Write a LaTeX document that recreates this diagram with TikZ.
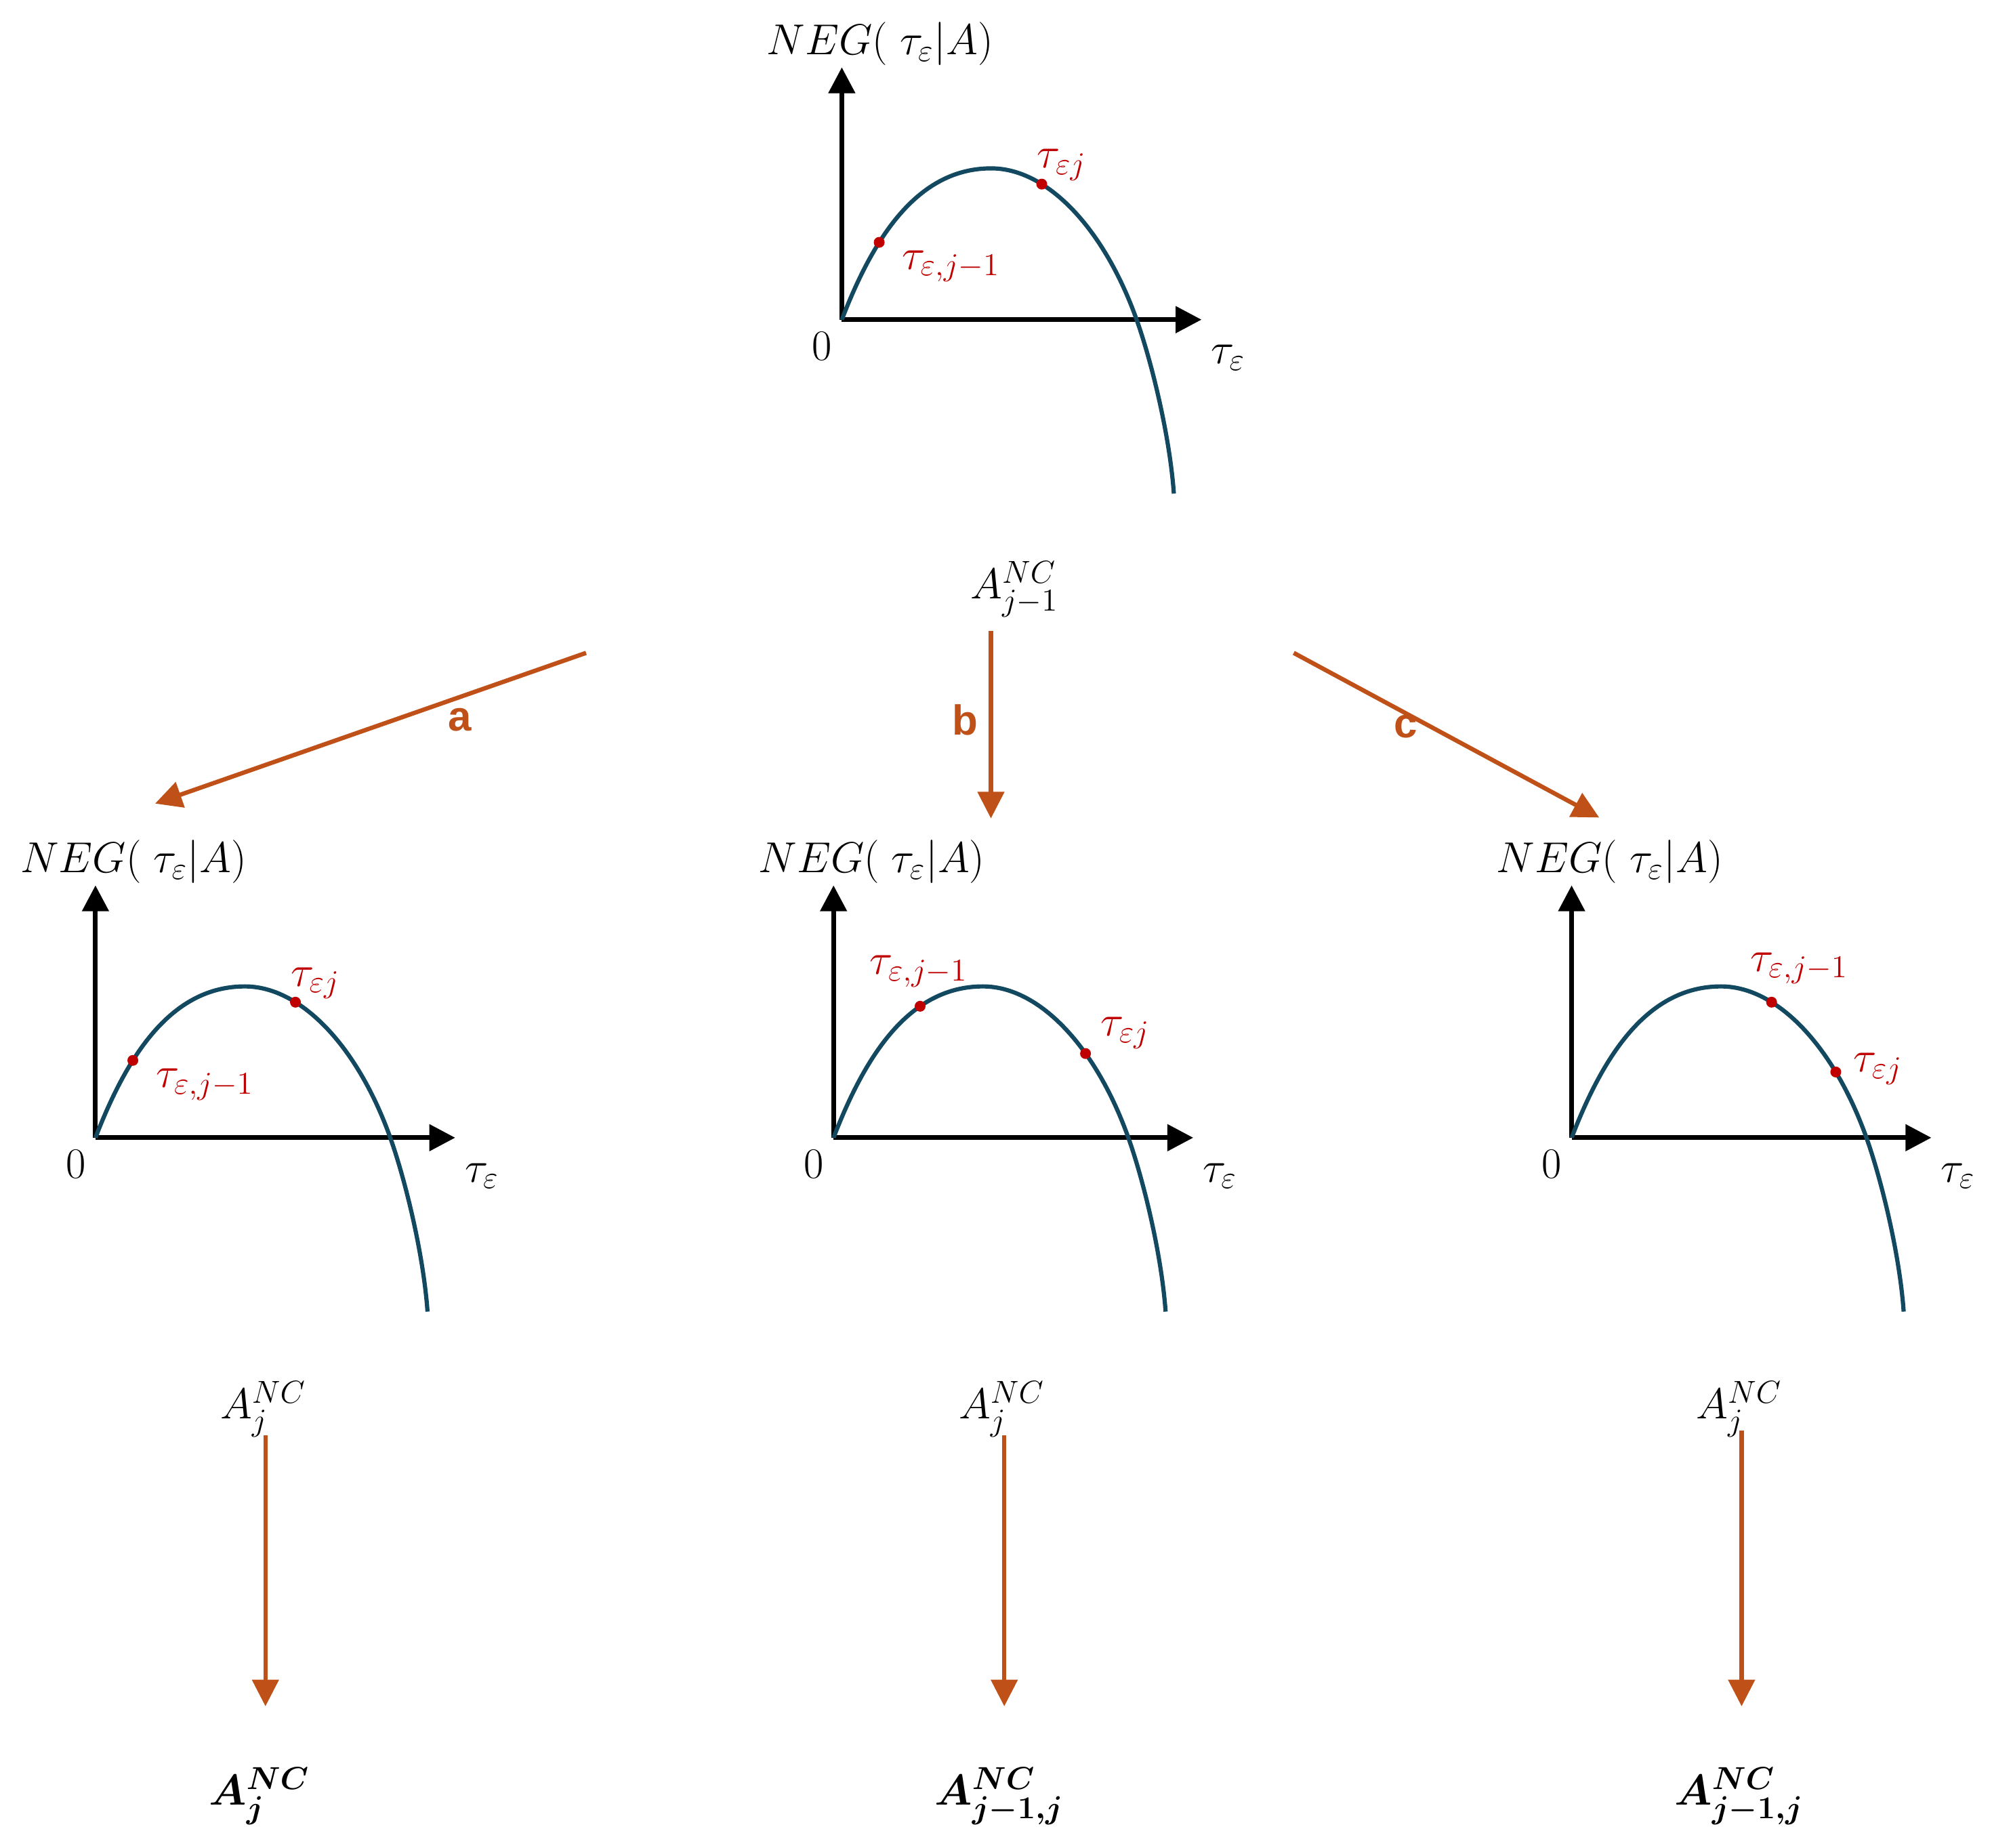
\RequirePackage{fix-cm}
\documentclass[tikz,border=0pt]{standalone}
\usepackage{amsmath,bm}
\usepackage{fontspec}
\newfontfamily\labfont{Liberation Sans}
\DeclareMathSizes{17}{17}{12.5}{9.5}
\usetikzlibrary{arrows.meta}
\definecolor{curveblue}{RGB}{18,72,96}
\definecolor{dotred}{RGB}{192,0,0}
\definecolor{arrorange}{RGB}{191,80,24}
\tikzset{
  axisline/.style={draw=black, line width=1.9pt, -{Triangle[length=10.2pt,width=10.2pt]}},
  curveline/.style={draw=curveblue, line width=1.65pt},
  reddot/.style={fill=dotred},
  mlab/.style={inner sep=0pt, font=\fontsize{17}{20}\selectfont},
  redlab/.style={mlab, text=dotred},
  letlab/.style={inner sep=0pt, text=arrorange, font=\labfont\bfseries\fontsize{16.5}{20}\selectfont},
  oarrow/.style={draw=arrorange, line width=1.7pt, -{Triangle[length=10.5pt,width=10.3pt]}},
  negplot/.pic={
    \draw[axisline] (0,0) -- (283,0);
    \draw[axisline] (0,0) -- (0,-198.5);
    \draw[curveline] (0,0) .. controls (25,-65) and (59.8,-119) .. (117.5,-119)
      .. controls (162.5,-119) and (206.9,-70.25) .. (231.9,0)
      .. controls (243.9,33.7) and (258,91.8) .. (261.2,136.8);
  }
}
\begin{document}
\begin{tikzpicture}[x=0.5pt,y=-0.5pt]
\fill[white] (0,0) rectangle (1567,1453);
\useasboundingbox (0,0) rectangle (1567,1453);

% ---------- top plot ----------
\begin{scope}[shift={(662.2,251.4)}]
  \pic (ptop) at (0,0) {negplot};
  \fill[reddot] (29.4,-60.8) circle (2.13pt);
  \fill[reddot] (157.3,-106.6) circle (2.13pt);
  \node[redlab] (topA) at (86,-42) {$\tau_{\varepsilon,j-1}$};
  \node[redlab] (topB) at (173,-121.6) {$\tau_{\varepsilon j}$};
  \node[mlab] (topY) at (30,-217) {$NEG(\;\tau_{\varepsilon}|A)$};
  \node[mlab] (topO) at (-15.5,21) {0};
  \node[mlab] (topX) at (304,30) {$\tau_{\varepsilon}$};
\end{scope}

\node[mlab, anchor=base] (Aprev) at (798,470.8) {$A^{NC}_{j-1}$};

% ---------- branch arrows ----------
\coordinate (aS) at (461,513.5);
\coordinate (aE) at (122,632);
\coordinate (bS) at (779.5,496.3);
\coordinate (bE) at (779.5,643.7);
\coordinate (cS) at (1017.7,513.5);
\coordinate (cE) at (1258,643);
\draw[oarrow] (aS) -- (aE);
\draw[oarrow] (bS) -- (bE);
\draw[oarrow] (cS) -- (cE);
\node[letlab] (la) at (362,566) {a};
\node[letlab] (lb) at (759,566) {b};
\node[letlab] (lc) at (1106,571.5) {c};

% ---------- left plot ----------
\begin{scope}[shift={(75.1,894.8)}]
  \pic (pleft) at (0,0) {negplot};
  \fill[reddot] (29.4,-60.8) circle (2.13pt);
  \fill[reddot] (157.3,-106.6) circle (2.13pt);
  \node[redlab] (leftA) at (86,-42) {$\tau_{\varepsilon,j-1}$};
  \node[redlab] (leftB) at (173,-121.6) {$\tau_{\varepsilon j}$};
  \node[mlab] (leftY) at (30,-217) {$NEG(\;\tau_{\varepsilon}|A)$};
  \node[mlab] (leftO) at (-15.5,21) {0};
  \node[mlab] (leftX) at (304,30) {$\tau_{\varepsilon}$};
\end{scope}

% ---------- middle plot ----------
\begin{scope}[shift={(655.7,894.8)}]
  \pic (pmid) at (0,0) {negplot};
  \fill[reddot] (68.1,-103.4) circle (2.13pt);
  \fill[reddot] (198.2,-66.2) circle (2.13pt);
  \node[redlab] (midA) at (67.1,-131) {$\tau_{\varepsilon,j-1}$};
  \node[redlab] (midB) at (229.5,-82.5) {$\tau_{\varepsilon j}$};
  \node[mlab] (midY) at (30,-217) {$NEG(\;\tau_{\varepsilon}|A)$};
  \node[mlab] (midO) at (-15.5,21) {0};
  \node[mlab] (midX) at (304,30) {$\tau_{\varepsilon}$};
\end{scope}

% ---------- right plot ----------
\begin{scope}[shift={(1236.3,894.8)}]
  \pic (pright) at (0,0) {negplot};
  \fill[reddot] (157.3,-106.6) circle (2.13pt);
  \fill[reddot] (207.8,-51.7) circle (2.13pt);
  \node[redlab] (rightA) at (179,-133.3) {$\tau_{\varepsilon,j-1}$};
  \node[redlab] (rightB) at (241,-54) {$\tau_{\varepsilon j}$};
  \node[mlab] (rightY) at (30,-217) {$NEG(\;\tau_{\varepsilon}|A)$};
  \node[mlab] (rightO) at (-15.5,21) {0};
  \node[mlab] (rightX) at (304,30) {$\tau_{\varepsilon}$};
\end{scope}

% ---------- bottom row ----------
\node[mlab, anchor=base] (AjL) at (207,1115.8) {$A^{NC}_{j}$};
\node[mlab, anchor=base] (AjM) at (788,1115.8) {$A^{NC}_{j}$};
\node[mlab, anchor=base] (AjR) at (1368,1115.8) {$A^{NC}_{j}$};

\coordinate (dLs) at (208.8,1129);
\coordinate (dLe) at (208.8,1342);
\coordinate (dMs) at (790,1129);
\coordinate (dMe) at (790,1342);
\coordinate (dRs) at (1370,1125);
\coordinate (dRe) at (1370,1342);
\draw[oarrow] (dLs) -- (dLe);
\draw[oarrow] (dMs) -- (dMe);
\draw[oarrow] (dRs) -- (dRe);

\node[mlab, anchor=base] (BjL) at (204,1419.6) {$\bm{A^{NC}_{j}}$};
\node[mlab, anchor=base] (BjM) at (786,1419.6) {$\bm{A^{NC}_{j-1,j}}$};
\node[mlab, anchor=base] (BjR) at (1368,1419.6) {$\bm{A^{NC}_{j-1,j}}$};
\end{tikzpicture}
\end{document}
